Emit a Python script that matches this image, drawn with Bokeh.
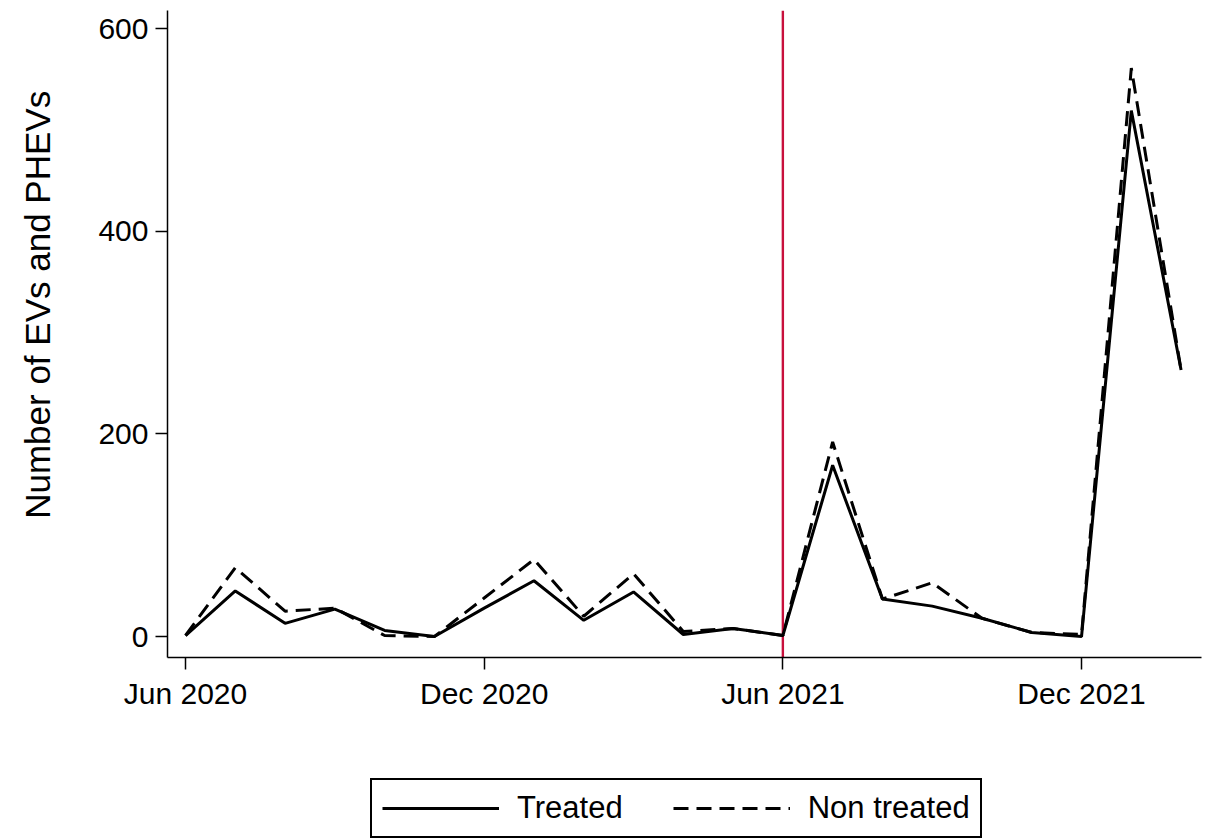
from bokeh.plotting import figure
from bokeh.layouts import column
from bokeh.models import Range1d, FixedTicker, Span, Legend, LegendItem, ColumnDataSource
from bokeh.embed import file_html
from bokeh.resources import INLINE

months = ["Jun 2020", "Jul 2020", "Aug 2020", "Sep 2020", "Oct 2020", "Nov 2020",
          "Dec 2020", "Jan 2021", "Feb 2021", "Mar 2021", "Apr 2021", "May 2021",
          "Jun 2021", "Jul 2021", "Aug 2021", "Sep 2021", "Oct 2021", "Nov 2021",
          "Dec 2021", "Jan 2022", "Feb 2022"]
treated = [1, 45, 13, 27, 6, 0, 28, 55, 16, 44, 2, 8, 1, 169, 37, 30, 18, 4, 0, 519, 263]
non_treated = [1, 68, 25, 28, 1, 0, 38, 76, 20, 62, 5, 8, 1, 192, 37, 53, 18, 4, 2, 561, 263]
tick_months = ["Jun 2020", "Dec 2020", "Jun 2021", "Dec 2021"]
y_ticks = [0, 200, 400, 600]
treatment_month = "Jun 2021"
series_labels = ["Treated", "Non treated"]
y_title = "Number of EVs and PHEVs"

idx = list(range(len(months)))
src = ColumnDataSource(dict(x=idx, treated=treated, non_treated=non_treated))

FONT = "Liberation Sans"
W = 1207

p = figure(width=W, height=740, output_backend="svg", toolbar_location=None,
           x_range=Range1d(-0.362, 20.41), y_range=Range1d(-20.7, 617.8),
           min_border_left=167, min_border_right=6, min_border_top=10, min_border_bottom=83)
p.outline_line_color = None
p.xgrid.visible = False
p.ygrid.visible = False
p.background_fill_color = "white"
p.border_fill_color = "white"

span = Span(location=months.index(treatment_month), dimension="height",
            line_color="#C8103C", line_width=2.4, level="underlay")
p.add_layout(span)

LW = 3
DASH = "15 8"
r1 = p.line("x", "treated", source=src, line_color="black", line_width=LW)
r2 = p.line("x", "non_treated", source=src, line_color="black", line_width=LW, line_dash=DASH)

tick_idx = [months.index(m) for m in tick_months]
p.xaxis.ticker = FixedTicker(ticks=tick_idx)
p.xaxis.major_label_overrides = {i: m for i, m in zip(tick_idx, tick_months)}
p.yaxis.ticker = FixedTicker(ticks=y_ticks)

for ax in (p.xaxis[0], p.yaxis[0]):
    ax.axis_line_color = "black"
    ax.axis_line_width = 1.5
    ax.major_tick_line_color = "black"
    ax.major_tick_line_width = 1.5
    ax.major_tick_out = 12
    ax.major_tick_in = 0
    ax.minor_tick_line_color = None
    ax.major_label_text_font = FONT
    ax.major_label_text_font_size = "30px"
    ax.major_label_text_color = "black"
    ax.major_label_standoff = 7
p.yaxis.major_label_orientation = "horizontal"

# leading no-break spaces shift the centred title up along the axis
p.yaxis.axis_label = "\u00a0" * 6 + y_title
p.yaxis.axis_label_standoff = 38
p.yaxis.axis_label_text_font = FONT
p.yaxis.axis_label_text_font_size = "35px"
p.yaxis.axis_label_text_font_style = "normal"
p.yaxis.axis_label_text_color = "black"

# legend panel
p2 = figure(width=W, height=98, output_backend="svg", toolbar_location=None,
            x_range=Range1d(0, 1), y_range=Range1d(10000, 10001),
            x_axis_location=None, y_axis_location=None,
            min_border_left=0, min_border_right=0, min_border_top=0, min_border_bottom=0)
p2.outline_line_color = None
p2.xgrid.visible = False
p2.ygrid.visible = False
p2.border_fill_color = "white"
l1 = p2.line("x", "treated", source=src, line_color="black", line_width=LW)
l2 = p2.line("x", "non_treated", source=src, line_color="black", line_width=LW, line_dash=DASH)

legend = Legend(items=[LegendItem(label=series_labels[0], renderers=[l1]),
                       LegendItem(label=series_labels[1], renderers=[l2])],
                location=(203, 0), orientation="horizontal")
legend.label_text_font = FONT
legend.label_text_font_size = "31px"
legend.label_text_color = "black"
legend.glyph_width = 117
legend.glyph_height = 30
legend.label_standoff = 18
legend.spacing = 50
legend.padding = 10
legend.margin = 0
legend.border_line_color = "black"
legend.border_line_alpha = 1
legend.border_line_width = 2
legend.background_fill_color = "white"
legend.background_fill_alpha = 1
p2.add_layout(legend, "center")

layout = column(p, p2, spacing=0)
open("out.html", "w").write(file_html(layout, INLINE))
